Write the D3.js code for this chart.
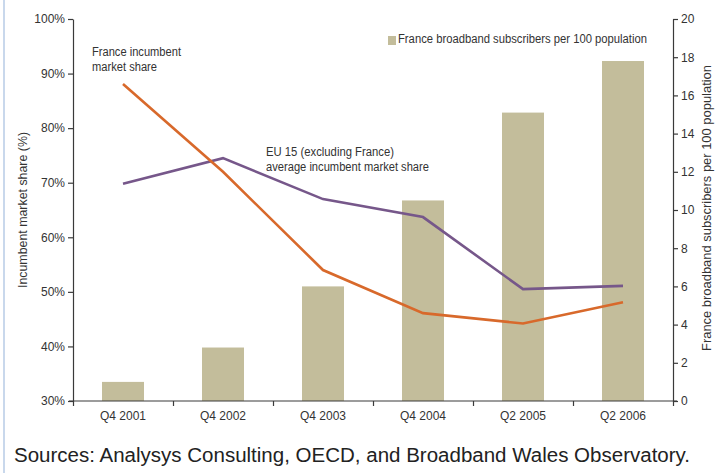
<!DOCTYPE html>
<html>
<head>
<meta charset="utf-8">
<script src="https://cdn.jsdelivr.net/npm/d3@7"></script>
<style>
  html, body { margin: 0; padding: 0; background: #fff; }
  svg { display: block; font-family: "Liberation Sans", Arial, sans-serif; }
</style>
</head>
<body>
<svg id="chart" width="723" height="473"></svg>
<script>
const categories = ["Q4 2001", "Q4 2002", "Q4 2003", "Q4 2004", "Q2 2005", "Q2 2006"];
const subscribers = [1.0, 2.8, 6.0, 10.5, 15.1, 17.8];
const franceShare = [88.1, 72.0, 54.0, 46.1, 44.2, 48.1];
const euShare = [69.8, 74.5, 67.0, 63.7, 50.5, 51.1];
const leftTicks = [30, 40, 50, 60, 70, 80, 90, 100];
const rightTicks = [0, 2, 4, 6, 8, 10, 12, 14, 16, 18, 20];

const svg = d3.select("#chart");
const W = 723, H = 473;
const m = { left: 73, right: 673, top: 19, bottom: 401 };

// left light-blue border
svg.append("rect").attr("x", 3).attr("y", 0).attr("width", 2).attr("height", H).attr("fill", "#c9d8ec");

const x = d3.scaleBand().domain(categories).range([m.left, m.right]).paddingInner(0.58).paddingOuter(0.29);
const xc = d => x(d) + x.bandwidth() / 2;
const yL = d3.scaleLinear().domain([30, 100]).range([m.bottom, m.top]);
const yR = d3.scaleLinear().domain([0, 20]).range([m.bottom, m.top]);

const barColor = "#c3bd9b", frColor = "#d8692b", euColor = "#76578a", axisColor = "#3a3a3a", textColor = "#333";

// bars
svg.append("g").selectAll("rect").data(categories).join("rect")
  .attr("x", d => x(d))
  .attr("width", x.bandwidth())
  .attr("y", (d, i) => yR(subscribers[i]))
  .attr("height", (d, i) => yR(0) - yR(subscribers[i]))
  .attr("fill", barColor);

// lines
const line = d3.line().x((d, i) => xc(categories[i])).y(d => yL(d));
svg.append("path").datum(euShare).attr("d", line).attr("fill", "none").attr("stroke", euColor).attr("stroke-width", 2.6).attr("stroke-linejoin", "miter");
svg.append("path").datum(franceShare).attr("d", line).attr("fill", "none").attr("stroke", frColor).attr("stroke-width", 2.6).attr("stroke-linejoin", "miter");

// axes
const leftAxis = d3.axisLeft(yL).tickValues(leftTicks).tickFormat(d => d + "%").tickSize(5).tickSizeOuter(0);
const gL = svg.append("g").attr("transform", `translate(${m.left},0)`).call(leftAxis);
const rightAxis = d3.axisRight(yR).tickValues(rightTicks).tickSize(5).tickSizeOuter(0);
const gR = svg.append("g").attr("transform", `translate(${m.right},0)`).call(rightAxis);

// x axis with ticks at band boundaries
const xAxisScale = d3.scaleLinear().domain([0, categories.length]).range([m.left, m.right]);
const gX = svg.append("g").attr("transform", `translate(0,${m.bottom})`)
  .call(d3.axisBottom(xAxisScale).tickValues(d3.range(categories.length + 1)).tickFormat("").tickSize(5).tickSizeOuter(0));
gX.select(".domain").attr("d", `M${m.left - 4},0H${m.right + 4}`);

[gL, gR, gX].forEach(g => {
  g.select(".domain").attr("stroke", axisColor).attr("stroke-width", 1.2);
  g.selectAll(".tick line").attr("stroke", axisColor).attr("stroke-width", 1.2);
  g.selectAll("text").attr("fill", textColor).attr("font-size", 12).attr("font-family", "Liberation Sans, Arial, sans-serif");
});
gL.selectAll("text").attr("x", -8);
gR.selectAll("text").attr("x", 8);

// category labels
svg.append("g").selectAll("text").data(categories).join("text")
  .attr("x", d => xc(d)).attr("y", 420)
  .attr("text-anchor", "middle").attr("font-size", 12).attr("fill", textColor)
  .text(d => d);

// axis titles
svg.append("text").attr("transform", `translate(27,${(m.top + m.bottom) / 2}) rotate(-90)`)
  .attr("text-anchor", "middle").attr("font-size", 12).attr("fill", textColor)
  .attr("textLength", 156).attr("lengthAdjust", "spacingAndGlyphs")
  .text("Incumbent market share (%)");
svg.append("text").attr("transform", `translate(711,208) rotate(-90)`)
  .attr("text-anchor", "middle").attr("font-size", 12).attr("fill", textColor)
  .attr("textLength", 286).attr("lengthAdjust", "spacingAndGlyphs")
  .text("France broadband subscribers per 100 population");

// legend
svg.append("rect").attr("x", 388).attr("y", 36).attr("width", 8).attr("height", 9).attr("fill", barColor);
svg.append("text").attr("x", 398).attr("y", 43).attr("font-size", 12).attr("fill", textColor)
  .attr("textLength", 249).attr("lengthAdjust", "spacingAndGlyphs")
  .text("France broadband subscribers per 100 population");

// annotations
svg.append("text").attr("x", 92).attr("y", 56).attr("font-size", 12).attr("fill", textColor)
  .attr("textLength", 89).attr("lengthAdjust", "spacingAndGlyphs").text("France incumbent");
svg.append("text").attr("x", 92).attr("y", 71).attr("font-size", 12).attr("fill", textColor)
  .attr("textLength", 65).attr("lengthAdjust", "spacingAndGlyphs").text("market share");
svg.append("text").attr("x", 266).attr("y", 156).attr("font-size", 12).attr("fill", textColor)
  .attr("textLength", 128).attr("lengthAdjust", "spacingAndGlyphs").text("EU 15 (excluding France)");
svg.append("text").attr("x", 266).attr("y", 171).attr("font-size", 12).attr("fill", textColor)
  .attr("textLength", 163).attr("lengthAdjust", "spacingAndGlyphs").text("average incumbent market share");

// source
svg.append("text").attr("x", 14).attr("y", 462).attr("font-size", 20).attr("fill", "#222")
  .attr("textLength", 676).attr("lengthAdjust", "spacingAndGlyphs")
  .text("Sources: Analysys Consulting, OECD, and Broadband Wales Observatory.");
</script>
</body>
</html>
